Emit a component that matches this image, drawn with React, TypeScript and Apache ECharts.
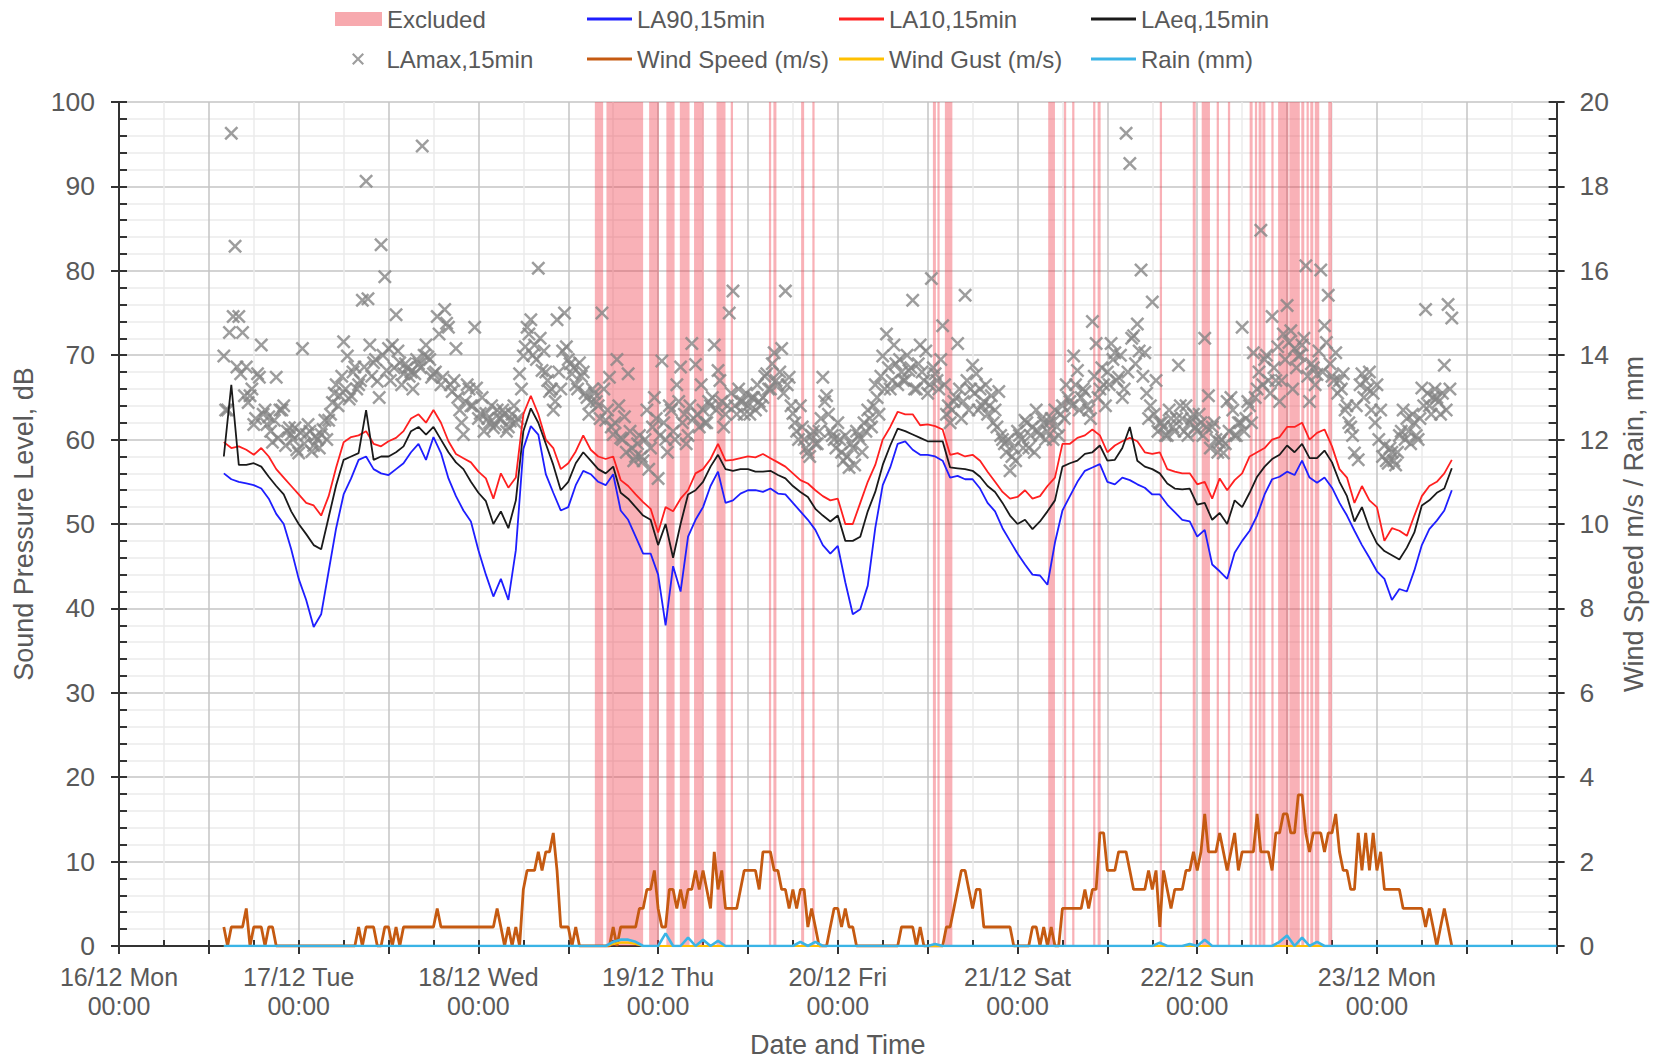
import React, { useEffect, useRef } from 'react';
import * as echarts from 'echarts';

// ---------- DATA ----------
// x values are hours since 16/12 00:00
const dayLabels = ['16/12 Mon', '17/12 Tue', '18/12 Wed', '19/12 Thu', '20/12 Fri', '21/12 Sat', '22/12 Sun', '23/12 Mon'];
const START_HOUR = 14; // first sample 16/12 14:00

// hourly LA10 (dB)
const la10 = [
  59.7, 59.0, 59.2, 58.8, 58.2, 59.0, 58.0, 56.5, 55.5, 54.5, 53.5, 52.5, 52.2, 51.0, 53.3, 56.7, 59.7, 60.3, 60.5, 61.0, 59.5, 59.2, 59.8, 60.2, 61.0, 62.5,
  63.0, 62.0, 63.5, 62.0, 59.8, 58.3, 57.8, 57.3, 56.2, 55.4, 53.0, 56.0, 54.3, 55.5, 63.0, 65.2, 63.0, 60.0, 59.0, 56.5, 57.2, 58.6, 60.5, 58.8, 58.0, 57.7, 58.0,
  55.2, 54.5, 53.5, 52.6, 51.8, 49.0, 52.0, 51.5, 53.0, 54.0, 56.0, 56.5, 57.7, 59.5, 57.5, 57.6, 57.8, 58.0, 57.9, 58.3, 57.8, 57.3, 56.8, 56.0, 55.2, 54.8, 54.0, 53.3, 52.8,
  53.0, 50.0, 50.0, 52.5, 55.0, 57.0, 60.0, 61.5, 63.3, 63.0, 63.0, 61.7, 61.8, 61.6, 61.2, 58.2, 58.4, 58.0, 58.2, 57.5, 56.2, 55.0, 53.8, 53.0, 53.2, 54.0, 53.0,
  53.3, 54.5, 55.5, 59.5, 59.5, 60.2, 60.5, 61.2, 60.5, 58.5, 59.3, 59.8, 60.2, 59.8, 58.5, 58.3, 58.5, 56.5, 56.2, 56.0, 56.0, 54.7, 55.0, 53.0, 55.4, 54.0, 55.2, 56.0, 58.0,
  58.5, 59.0, 60.0, 60.3, 61.5, 61.5, 62.0, 60.0, 60.8, 61.2, 59.2, 56.5, 55.5, 52.5, 54.5, 52.8, 52.0, 48.0, 49.5, 49.2, 48.6, 51.0, 53.3, 54.5, 55.0, 56.0, 57.6,
];

// hourly LA90 (dB)
const la90 = [
  56.0, 55.3, 55.0, 54.8, 54.6, 54.2, 53.0, 51.2, 50.0, 47.0, 43.5, 41.0, 37.8, 39.3, 44.4, 49.5, 53.5, 55.4, 57.6, 58.0, 56.5, 56.0, 55.8, 56.5, 57.2, 58.5,
  59.5, 57.6, 60.3, 58.4, 55.4, 53.3, 51.6, 50.3, 46.9, 44.0, 41.4, 43.5, 41.0, 46.9, 58.9, 61.6, 60.6, 55.9, 53.7, 51.6, 52.0, 54.6, 56.3, 55.9, 55.0, 54.6, 55.9,
  51.6, 50.5, 48.5, 46.5, 46.5, 44.0, 38.0, 45.0, 42.0, 48.5, 50.5, 52.0, 54.5, 56.2, 52.5, 52.8, 53.6, 54.0, 54.0, 53.8, 54.2, 53.6, 53.5, 52.5, 51.5, 50.5, 49.3, 47.5, 46.5,
  47.4, 43.1, 39.3, 39.9, 42.7, 49.5, 54.6, 56.7, 59.5, 59.8, 58.8, 58.2, 58.2, 58.0, 57.5, 55.5, 55.7, 55.3, 55.3, 54.2, 52.5, 51.5, 49.5, 48.0, 46.5, 45.2, 44.0,
  43.9, 42.8, 47.8, 51.6, 53.3, 55.0, 56.3, 56.7, 57.1, 55.0, 54.7, 55.5, 55.2, 54.7, 54.3, 53.5, 53.5, 52.3, 51.4, 50.5, 50.3, 48.5, 49.3, 45.2, 44.4, 43.5, 46.6, 48.0, 49.2,
  51.0, 53.5, 55.3, 55.6, 56.2, 55.8, 57.5, 55.5, 54.9, 55.5, 54.3, 52.5, 51.0, 49.2, 47.5, 46.0, 44.4, 43.5, 41.0, 42.3, 42.0, 44.5, 47.5, 49.4, 50.4, 51.6, 54.0,
];

// hourly LAeq (dB)
const laeq = [
  58.0, 66.5, 57.0, 57.0, 57.2, 56.8, 55.6, 54.5, 53.5, 51.5, 50.0, 48.8, 47.5, 47.0, 50.8, 54.6, 57.6, 58.0, 58.4, 63.5, 57.6, 58.0, 58.0, 58.5, 59.2, 61.0,
  61.5, 60.6, 61.5, 60.0, 58.5, 57.3, 56.5, 55.0, 53.7, 52.7, 50.0, 51.5, 49.5, 52.8, 61.0, 63.7, 62.0, 59.5, 57.0, 54.0, 55.0, 57.2, 58.5, 57.5, 56.5, 56.0, 56.8,
  53.7, 53.0, 52.0, 51.0, 50.5, 47.5, 50.0, 46.0, 50.0, 53.5, 54.0, 55.0, 56.8, 58.2, 56.5, 56.3, 56.5, 56.5, 56.2, 56.2, 56.3, 55.8, 55.4, 54.5, 53.8, 53.2, 51.8, 51.0, 50.3,
  51.0, 48.0, 48.0, 48.5, 51.5, 53.8, 57.0, 59.3, 61.3, 61.0, 60.6, 60.2, 59.8, 59.8, 59.8, 56.7, 56.6, 56.5, 56.3, 55.6, 54.5, 53.8, 52.5, 51.0, 50.0, 50.5, 49.4,
  50.3, 51.5, 52.8, 56.8, 57.2, 57.5, 58.3, 58.5, 59.3, 57.5, 57.6, 59.0, 61.5, 57.5, 56.8, 56.5, 56.0, 54.8, 54.2, 54.1, 54.2, 52.3, 52.5, 50.5, 51.3, 50.0, 52.8, 52.0, 53.7,
  55.6, 56.8, 57.7, 58.2, 59.3, 58.5, 59.5, 57.8, 57.8, 58.7, 57.3, 55.0, 53.3, 50.3, 52.0, 49.5, 47.7, 46.8, 46.3, 45.8, 47.2, 49.0, 52.2, 52.8, 53.7, 54.2, 56.6,
];

// LAmax (dB) at hh:00 / hh:30
const lamaxA = [
  69.9, 63.5, 96.3, 82.9, 74.6, 72.7, 68.6, 65.2, 61.8, 67.8, 71.2, 63.5, 62.7, 59.7, 67.4, 63.5, 64.0, 61.0, 60.6, 61.4,
  58.4, 70.8, 60.6, 61.0, 59.3, 60.0, 60.6, 62.3, 62.3, 64.4, 66.5, 65.2, 71.6, 69.9, 65.2, 68.6, 66.5, 76.5, 90.6, 71.2,
  69.1, 66.9, 83.1, 79.3, 70.8, 71.2, 74.8, 69.1, 67.8, 68.5, 68.0, 67.8,
  69.0, 94.8, 71.2, 69.5, 67.8, 74.6, 66.5, 75.4, 73.3, 65.7, 70.8, 63.5, 60.6, 66.5, 64.0, 73.3, 62.5, 65.0, 63.1, 62.0,
  61.4, 63.5, 62.5, 63.1, 61.5, 63.0, 62.0, 67.8, 69.9, 73.3, 74.2, 71.2, 80.3, 68.2, 68.0, 65.7, 63.5, 74.2, 66.0, 75.0,
  69.5, 67.8, 66.5, 69.1, 68.0, 65.0, 64.4, 65.5, 64.0, 75.0, 62.3, 67.4, 60.6, 69.5, 60.2,
  62.7, 67.8, 59.0, 58.0, 60.5, 57.5, 63.5, 59.0, 65.0, 55.4, 69.3, 60.0, 64.0, 61.0, 66.5, 68.6, 63.0, 60.5, 71.4, 68.9,
  61.5, 63.5, 62.0, 64.0, 71.2, 68.2, 64.5, 63.0, 75.0, 77.6, 63.0, 64.5, 63.0, 64.0, 65.0, 63.5, 64.5, 65.0, 67.8, 66.0,
  70.3, 66.5, 70.8, 77.6, 67.4, 63.1, 61.0, 64.0, 60.0, 58.5, 60.5, 59.5, 61.0, 67.4, 65.2, 61.0, 60.0,
  62.0, 58.5, 60.5, 56.7, 59.0, 61.0, 60.0, 62.0, 63.5, 61.5, 66.5, 63.0, 69.9, 72.5, 66.0, 71.2, 66.5, 68.0, 67.0, 68.2,
  76.5, 66.0, 71.2, 67.0, 65.5, 79.1, 67.8, 66.0, 73.5, 63.0, 62.0, 64.5, 71.4, 62.5, 77.1, 63.5, 68.8, 67.8, 66.0, 64.5,
  63.0, 65.2, 63.5, 65.7, 60.0, 58.5, 56.3, 59.0, 61.0, 60.0, 62.3, 59.0, 61.5, 63.5, 60.5, 62.0,
  61.0, 62.5, 63.5, 60.5, 64.0, 66.5, 64.5, 69.9, 68.2, 65.0, 65.7, 63.5, 74.0, 71.4, 66.0, 66.5, 68.0, 71.4, 70.3, 67.4,
  65.0, 96.3, 92.7, 72.3, 73.7, 80.1, 70.3, 62.5, 76.3, 67.0, 62.0, 61.5, 60.5, 62.5, 61.0, 68.8, 62.5, 64.0, 62.0, 63.0,
  61.0, 62.0, 72.0, 65.2, 61.5, 60.0, 59.7, 58.4, 64.5, 65.0, 60.5, 62.0, 73.3, 62.5, 64.0, 70.3,
  66.0, 84.8, 69.5, 67.0, 74.6, 67.0, 64.5, 72.5, 75.9, 72.9, 70.8, 69.9, 71.2, 80.6, 64.5, 68.5, 67.7, 80.1, 73.5, 77.1,
  67.5, 70.3, 67.0, 67.8, 64.0, 61.5, 58.4, 57.6, 67.8, 67.0, 68.0, 65.5, 66.5, 63.5, 59.3, 57.2, 58.5, 57.0, 60.5, 63.5,
  62.5, 59.5, 62.0, 60.0, 66.1, 75.4, 64.0, 65.0, 65.0, 63.0, 68.8, 76.0, 74.4,
];

// LAmax (dB) at hh:15 / hh:45
const lamaxB = [
  63.5, 72.7, 74.6, 68.6,
  67.8, 65.2, 64.4, 66.0, 62.5, 67.4, 63.0, 61.8,
  61.0, 62.3, 60.2, 63.5, 59.3, 61.4, 60.0, 58.8,
  60.8, 59.5, 61.8, 58.6, 60.4, 59.0, 61.2, 60.0,
  63.0, 65.5, 64.0, 67.5, 66.0, 64.8, 68.0, 66.0,
  67.0, 68.6, 76.7, 67.5, 69.5, 65.0, 70.0, 68.2,
  67.0, 68.5, 70.5, 66.5, 69.0, 67.5, 66.0, 69.5,
  68.5, 70.0, 69.8, 67.4, 68.0, 72.5, 67.4, 73.8, 66.5, 67.0, 65.0, 62.0, 64.5, 66.0, 64.0, 66.1,
  63.1, 61.0, 62.5, 64.0, 61.8, 62.5, 63.5, 61.0, 62.2, 64.0, 62.5, 66.0,
  71.0, 72.5, 70.0, 69.5, 72.0, 70.5, 67.0, 66.0, 64.5, 68.0, 70.5, 71.0,
  69.0, 68.5, 66.0, 67.5, 65.5, 63.0, 66.0, 64.5, 62.5, 66.0, 63.5, 61.5, 62.0, 64.0,
  60.0, 58.5, 61.0, 57.5, 59.5, 58.0, 60.0, 56.5, 61.5, 62.5,
  60.5, 62.0, 58.5, 63.5, 60.0, 64.5, 62.0, 59.5,
  64.0, 62.5, 63.0, 66.5, 62.0, 64.5, 65.0, 63.5, 67.0, 61.5, 64.0, 65.5,
  64.0, 66.0, 64.5, 65.5, 63.0, 65.0, 66.5, 64.0, 67.5, 66.0, 69.0, 67.0, 68.0, 65.5, 66.5, 64.0,
  62.0, 60.0, 61.5, 59.0, 58.0, 61.0, 59.5, 62.5, 64.5, 63.0, 60.5, 59.0,
  60.0, 57.5, 58.0, 59.5, 57.0, 60.5, 58.5, 61.0,
  62.5, 64.0, 65.0, 67.5, 66.0, 68.5, 67.0, 69.0,
  69.5, 67.0, 70.0, 68.5, 66.0, 69.0, 68.0, 70.5, 66.5, 68.5, 67.0, 69.5,
  66.5, 64.0, 63.5, 65.0, 66.0, 64.5, 67.0, 66.0, 65.5, 63.5, 64.0, 66.5,
  64.0, 62.0, 61.5, 60.5, 59.5, 60.0, 58.0, 57.5, 60.5, 59.0, 62.0, 60.5, 58.5, 61.0, 62.5, 60.0,
  62.0, 60.0, 61.5, 63.0, 62.5, 65.0, 64.0, 66.5, 63.5, 66.0, 64.0, 62.5,
  67.5, 65.0, 68.5, 64.0, 66.5, 69.5, 67.0, 70.0, 66.0, 68.0, 72.0, 69.0, 70.5, 67.5, 65.5, 64.0,
  63.0, 61.0, 62.0, 60.5, 63.5, 61.5, 62.5, 64.0, 61.0, 60.5, 62.5, 61.5,
  63.0, 60.5, 61.5, 59.0, 62.0, 58.5, 60.0, 59.5, 61.0, 63.5, 60.5, 62.0, 61.0, 64.5, 62.0, 65.0,
  68.0, 66.5, 70.0, 65.5, 68.5, 71.0, 67.0, 69.5, 71.5, 66.0, 68.5, 70.0, 72.0, 67.5, 69.0, 66.5, 70.5, 68.0, 71.5, 69.0,
  67.0, 65.5, 66.0, 63.5, 62.0, 60.5, 64.0, 66.5,
  65.0, 66.0, 63.5, 62.0, 60.0, 58.0, 57.5, 59.0, 57.5, 58.5, 61.0, 60.0,
  61.0, 63.0, 60.5, 62.5, 64.0, 65.5, 63.0, 66.0, 64.5, 65.5, 63.5, 66.0,
];

// half-hourly wind speed, read in whole mph steps
const windMph = [
  1, 0, 1, 1, 1, 1, 2, 0, 1, 1, 1, 0, 1, 1, 0, 0,
  0, 0, 0, 0, 0, 0, 0, 0, 0, 0, 0, 0, 0, 0, 0, 0, 0, 0, 0, 0,
  1, 0, 1, 1, 1, 0, 0, 1, 1, 0, 1, 0, 1,
  1, 1, 1, 1, 1, 1, 1, 1,
  2,
  1, 1, 1, 1, 1, 1, 1, 1, 1, 1, 1, 1, 1, 1, 1,
  2, 1, 0, 1, 0, 1, 0, 3, 4, 4, 4, 5, 4, 5, 5, 6, 4, 1, 1, 1, 0, 1, 0,
  0, 0, 0, 0, 0, 0, 0, 0,
  1, 0, 1, 1, 1, 1, 1, 2, 2, 3, 3, 4, 2, 1, 1, 3, 3, 2, 3, 2, 3, 3, 4, 3, 4, 3, 2, 5, 3, 4,
  2, 2, 2, 2, 3, 4, 4, 4, 4, 3, 5, 5, 5, 4, 4, 3, 3, 2, 3, 2, 3, 3, 1, 2, 1, 0, 0,
  0, 1, 2, 2, 1, 2, 1, 1, 0,
  0, 0, 0, 0, 0, 0, 0, 0, 0, 0, 0,
  1, 1, 1, 1, 0, 1, 0,
  0, 0, 0, 0, 0,
  1, 1, 2, 3, 4, 4, 3, 2, 3, 3, 1,
  1, 1, 1, 1, 1, 1, 1,
  0, 0, 0, 0, 0,
  1, 1, 0, 1, 0, 1, 0, 0,
  2, 2, 2, 2, 2, 2, 3, 2, 3, 3, 6, 6, 4, 4, 4, 5, 5, 5, 4, 3,
  3, 3, 3, 4, 3, 4, 1, 4, 3, 2, 3, 3, 3, 4, 4, 5, 4, 5, 7, 5,
  5, 5, 6, 5, 4, 5, 6, 4, 5, 5, 5, 5, 7, 5, 5, 5, 4, 6, 6, 7,
  7, 6, 6, 8, 8, 6, 5, 6, 6, 6, 5, 6, 6, 7, 5, 4, 4, 3, 3, 6,
  4, 6, 4, 6, 4, 5, 3, 3, 3, 3, 3, 2, 2, 2, 2, 2, 2, 1, 2, 1,
  0, 1, 2, 1, 0,
];

// rain (mm) - hours with non-zero readings; all other hours read as 0
const rainEvents = [
  [66, 0.1], [67, 0.15], [68, 0.15], [69, 0.1], [73, 0.3], [76, 0.2], [78, 0.15], [80, 0.12], [91, 0.1], [93, 0.1],
  [109, 0.05], [139, 0.08], [143, 0.05], [145, 0.15], [155, 0.1], [156, 0.25], [158, 0.2], [160, 0.1],
];
const RAIN_END = 192;
// wind gust (m/s) - non-zero hours
const gustEvents = [[66, 0.05], [67, 0.08], [68, 0.08], [69, 0.05]];
const GUST_END = 178;

// excluded periods [start hour, end hour]
const excluded = [
  [63.55, 64.66], [65.1, 70.0], [70.8, 72.1], [73.1, 74.2], [74.9, 76.2], [76.8, 78.1], [79.8, 81.0], [81.7, 82.0],
  [86.8, 87.1], [87.4, 87.8], [91.1, 91.5], [92.6, 92.9],
  [108.7, 109.1], [109.3, 109.6], [110.3, 111.3],
  [124.1, 125.0], [126.2, 126.5], [127.3, 127.6], [130.1, 130.4], [130.7, 131.1], [139.0, 139.3], [143.4, 143.8],
  [144.6, 145.7], [146.6, 146.9], [148.1, 148.4],
  [151.0, 151.4], [151.7, 152.0], [152.2, 152.6], [152.7, 153.1], [153.9, 154.2], [154.8, 156.2], [156.3, 157.7],
  [157.9, 158.3], [158.6, 158.9], [159.1, 159.5], [159.7, 160.3], [161.5, 162.0],
];

// ---------- STYLE ----------
const FONT = '"Liberation Sans", Arial, Helvetica, sans-serif';
const TXT = '#595959';
const AXIS = '#333333';
const CROSS = 'path://M1.5,0L6,4.5L10.5,0L12,1.5L7.5,6L12,10.5L10.5,12L6,7.5L1.5,12L0,10.5L4.5,6L0,1.5Z';

function buildOption() {
  const hourly = (arr: number[]) => arr.map((v, i) => [START_HOUR + i, v]);
  const half = (arr: number[], offset: number) => arr.map((v, i) => [START_HOUR + offset + i * 0.5, v]);
  const sparse = (events: number[][], end: number) => {
    const out: number[][] = [];
    for (let h = START_HOUR; h <= end; h++) {
      const ev = events.find((e) => e[0] === h);
      out.push([h, ev ? ev[1] : 0]);
    }
    return out;
  };
  const windData = windMph.map((m, i) => [START_HOUR + i * 0.5, +(m * 0.447).toFixed(2)]);
  const lamaxData = [...half(lamaxA, 0), ...half(lamaxB, 0.25)].sort((a, b) => a[0] - b[0]);

  const legendDefs = [
    { name: 'Excluded', left: 335, top: 7, icon: 'rect', w: 47, h: 14 },
    { name: 'LA90,15min', left: 587, top: 7, icon: 'rect', w: 45, h: 3 },
    { name: 'LA10,15min', left: 839, top: 7, icon: 'rect', w: 45, h: 3 },
    { name: 'LAeq,15min', left: 1091, top: 7, icon: 'rect', w: 45, h: 3 },
    { name: 'LAmax,15min', left: 352, top: 47, icon: CROSS, w: 47, h: 12 },
    { name: 'Wind Speed (m/s)', left: 587, top: 47, icon: 'rect', w: 45, h: 3 },
    { name: 'Wind Gust (m/s)', left: 839, top: 47, icon: 'rect', w: 45, h: 3 },
    { name: 'Rain (mm)', left: 1091, top: 47, icon: 'rect', w: 45, h: 3 },
  ];

  return {
    animation: false,
    backgroundColor: '#ffffff',
    textStyle: { fontFamily: FONT },
    legend: legendDefs.map((d) => ({
      data: [{ name: d.name, icon: d.icon }],
      left: d.left,
      top: d.top,
      padding: 0,
      itemWidth: d.w,
      itemHeight: d.h,
      itemGap: 0,
      symbolKeepAspect: true,
      selectedMode: false,
      textStyle: { fontSize: 24, color: TXT, fontFamily: FONT, padding: [0, 0, 0, 0] },
    })),
    grid: { left: 119, right: 98, top: 102, bottom: 115, containLabel: false },
    xAxis: [
      {
        type: 'value',
        min: 0,
        max: 192,
        interval: 12,
        position: 'bottom',
        axisLine: { show: true, onZero: false, lineStyle: { color: AXIS, width: 2 } },
        axisTick: { show: true, length: 8, lineStyle: { color: AXIS, width: 2 } },
        axisLabel: {
          fontSize: 25,
          color: TXT,
          fontFamily: FONT,
          margin: 16,
          lineHeight: 29,
          formatter: (v: number) => (v % 24 === 0 && v < 192 ? `${dayLabels[v / 24]}\n00:00` : ''),
        },
        splitLine: { show: true, lineStyle: { color: '#c4c4c4', width: 1.5 } },
        minorTick: { show: false, splitNumber: 2 },
        minorSplitLine: { show: true, lineStyle: { color: '#ebebeb', width: 1.5 } },
        name: 'Date and Time',
        nameLocation: 'middle',
        nameGap: 85,
        nameTextStyle: { fontSize: 27, color: TXT, fontFamily: FONT },
      },
      {
        type: 'value',
        min: 0,
        max: 192,
        interval: 6,
        position: 'bottom',
        axisLine: { show: false, onZero: false },
        axisTick: { show: true, inside: true, length: 6, lineStyle: { color: AXIS, width: 2 } },
        axisLabel: { show: false },
        splitLine: { show: false },
      },
    ],
    yAxis: [
      {
        type: 'value',
        min: 0,
        max: 100,
        interval: 10,
        position: 'left',
        axisLine: { show: true, onZero: false, lineStyle: { color: AXIS, width: 2 } },
        axisTick: { show: true, length: 8, lineStyle: { color: AXIS, width: 2 } },
        axisLabel: { fontSize: 26.5, color: TXT, fontFamily: FONT, margin: 24 },
        splitLine: { show: true, lineStyle: { color: '#c4c4c4', width: 1.5 } },
        minorTick: { show: false, splitNumber: 5 },
        minorSplitLine: { show: true, lineStyle: { color: '#ebebeb', width: 1.5 } },
        name: 'Sound Pressure Level, dB',
        nameLocation: 'middle',
        nameRotate: 90,
        nameGap: 82,
        nameTextStyle: { fontSize: 27, color: TXT, fontFamily: FONT },
      },
      {
        type: 'value',
        min: 0,
        max: 100,
        interval: 2,
        position: 'left',
        axisLine: { show: false, onZero: false },
        axisTick: { show: true, inside: true, length: 8, lineStyle: { color: AXIS, width: 2 } },
        axisLabel: { show: false },
        splitLine: { show: false },
      },
      {
        type: 'value',
        min: 0,
        max: 20,
        interval: 2,
        position: 'right',
        axisLine: { show: true, onZero: false, lineStyle: { color: AXIS, width: 2 } },
        axisTick: { show: true, length: 8, lineStyle: { color: AXIS, width: 2 } },
        axisLabel: { fontSize: 26.5, color: TXT, fontFamily: FONT, margin: 23 },
        splitLine: { show: false },
        name: 'Wind Speed m/s / Rain, mm',
        nameLocation: 'middle',
        nameRotate: 90,
        nameGap: 63,
        nameTextStyle: { fontSize: 27, color: TXT, fontFamily: FONT },
      },
      {
        type: 'value',
        min: 0,
        max: 20,
        interval: 0.4,
        position: 'right',
        axisLine: { show: false, onZero: false },
        axisTick: { show: true, inside: true, length: 8, lineStyle: { color: AXIS, width: 2 } },
        axisLabel: { show: false },
        splitLine: { show: false },
      },
    ],
    series: [
      {
        name: 'Excluded',
        type: 'custom',
        color: '#f7a9ae',
        xAxisIndex: 0,
        yAxisIndex: 0,
        z: 1,
        silent: true,
        data: excluded,
        encode: { x: [0, 1] },
        renderItem: (_p: any, api: any) => {
          const a = api.coord([api.value(0), 100]);
          const b = api.coord([api.value(1), 0]);
          return {
            type: 'rect',
            shape: { x: a[0], y: a[1], width: Math.max(1, b[0] - a[0]), height: b[1] - a[1] },
            style: { fill: 'rgba(240,60,75,0.4)' },
          };
        },
      },
      {
        name: 'LA90,15min',
        type: 'line',
        color: '#1e1eff',
        symbol: 'none',
        z: 4,
        lineStyle: { width: 1.8, color: '#1e1eff' },
        data: hourly(la90),
      },
      {
        name: 'LA10,15min',
        type: 'line',
        color: '#ff2020',
        symbol: 'none',
        z: 4,
        lineStyle: { width: 1.8, color: '#ff2020' },
        data: hourly(la10),
      },
      {
        name: 'LAeq,15min',
        type: 'line',
        color: '#1a1a1a',
        symbol: 'none',
        z: 4,
        lineStyle: { width: 1.8, color: '#1a1a1a' },
        data: hourly(laeq),
      },
      {
        name: 'LAmax,15min',
        type: 'scatter',
        color: '#858585',
        symbol: CROSS,
        symbolSize: 14,
        z: 3,
        itemStyle: { color: '#858585' },
        data: lamaxData,
      },
      {
        name: 'Wind Speed (m/s)',
        type: 'line',
        color: '#c55a11',
        yAxisIndex: 2,
        symbol: 'none',
        z: 5,
        lineStyle: { width: 2.8, color: '#c55a11' },
        data: windData,
      },
      {
        name: 'Wind Gust (m/s)',
        type: 'line',
        color: '#ffc000',
        yAxisIndex: 2,
        symbol: 'none',
        z: 5,
        lineStyle: { width: 2.2, color: '#ffc000' },
        data: sparse(gustEvents, GUST_END),
      },
      {
        name: 'Rain (mm)',
        type: 'line',
        color: '#3ab4e6',
        yAxisIndex: 2,
        symbol: 'none',
        z: 6,
        lineStyle: { width: 2.6, color: '#3ab4e6' },
        data: sparse(rainEvents, RAIN_END),
      },
    ],
  };
}

export default function App() {
  const ref = useRef<HTMLDivElement>(null);
  useEffect(() => {
    if (!ref.current) return;
    const chart = echarts.init(ref.current, undefined, { renderer: 'svg' });
    chart.setOption(buildOption() as any);
    return () => chart.dispose();
  }, []);
  return (
    <div
      ref={ref}
      style={{ position: 'absolute', left: 0, top: 0, width: 1655, height: 1063, background: '#fff' }}
    />
  );
}
